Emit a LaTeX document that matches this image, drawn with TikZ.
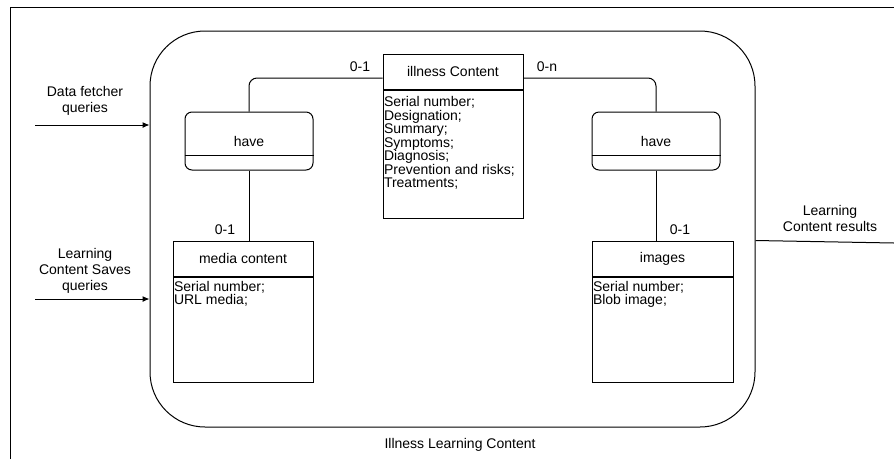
\documentclass[tikz,border=0pt]{standalone}
\usepackage{fontspec}
\setmainfont{Liberation Sans}
\usetikzlibrary{arrows.meta}

\begin{document}
\begin{tikzpicture}[x=1pt,y=-1pt,line width=1pt,
  font=\fontsize{14}{16}\selectfont,
  enthead/.style={draw,minimum width=140pt,minimum height=35pt,inner sep=0pt},
  entbody/.style={draw,minimum width=140pt,inner sep=0pt,anchor=north},
  attrs/.style={anchor=north west,align=left,inner sep=1pt,font=\fontsize{14}{13.5}\selectfont},
  rel/.style={draw,rounded corners=7pt,minimum width=128pt,minimum height=58pt,inner sep=0pt},
  card/.style={inner sep=0pt},
  flow/.style={-{Latex[length=7pt,width=6pt]}}]
\useasboundingbox (0,0) rectangle (894,459);
\draw (10,459) -- (10,7) -- (894,7);

\node[draw,rounded corners=55pt,minimum width=605pt,minimum height=396pt] (box) at (452.5,229) {};
\node at (460,445) {Illness Learning Content};

% entities
\node[enthead] (ill) at (453,71.5) {illness Content};
\node[entbody,minimum height=128pt] (illb) at (ill.south) {};
\node[attrs] at ([yshift=-5.5pt]illb.north west) {Serial number;\\Designation;\\Summary;\\Symptoms;\\Diagnosis;\\Prevention and risks;\\Treatments;};

\node[enthead] (media) at (243,258.5) {media content};
\node[entbody,minimum height=105pt] (mediab) at (media.south) {};
\node[attrs] at ([yshift=-3pt]mediab.north west) {Serial number;\\URL media;};

\node[enthead,minimum width=141pt] (img) at (662.5,258.5) {images};
\node[entbody,minimum width=141pt,minimum height=105pt] (imgb) at (img.south) {};
\node[attrs] at ([yshift=-3pt]imgb.north west) {Serial number;\\Blob image;};

% relations
\node[rel] (haveL) at (249,141) {have};
\node[rel] (haveR) at (656,141) {have};
\foreach \r in {haveL,haveR}
  \draw ([yshift=15pt]\r.south west) -- ([yshift=15pt]\r.south east);

\draw[rounded corners=8pt] ([yshift=-6.5pt]ill.west) -| (haveL.north);
\draw[rounded corners=8pt] ([yshift=-6.5pt]ill.east) -| (haveR.north);
\draw (haveL.south) -- (haveL.south |- media.north);
\draw (haveR.south) -- (haveR.south |- img.north);
\node[card] at (360,67) {0-1};
\node[card] at (547,67) {0-n};
\node[card] at (225,230) {0-1};
\node[card] at (680,230) {0-1};

% flows
\coordinate (in1) at (35,125);
\coordinate (in2) at (35,299);
\coordinate (out) at (894,243);
\draw[flow] (in1) -- (in1 -| box.west);
\draw[flow] (in2) -- (in2 -| box.west);
\draw (box.east |- img.north) -- (out);
\node[align=center] at (85,101) {Data fetcher\\queries};
\node[align=center] at (85,270.5) {Learning\\Content Saves\\queries};
\node[align=center] at (830,218) {Learning\\Content results};
\end{tikzpicture}
\end{document}
